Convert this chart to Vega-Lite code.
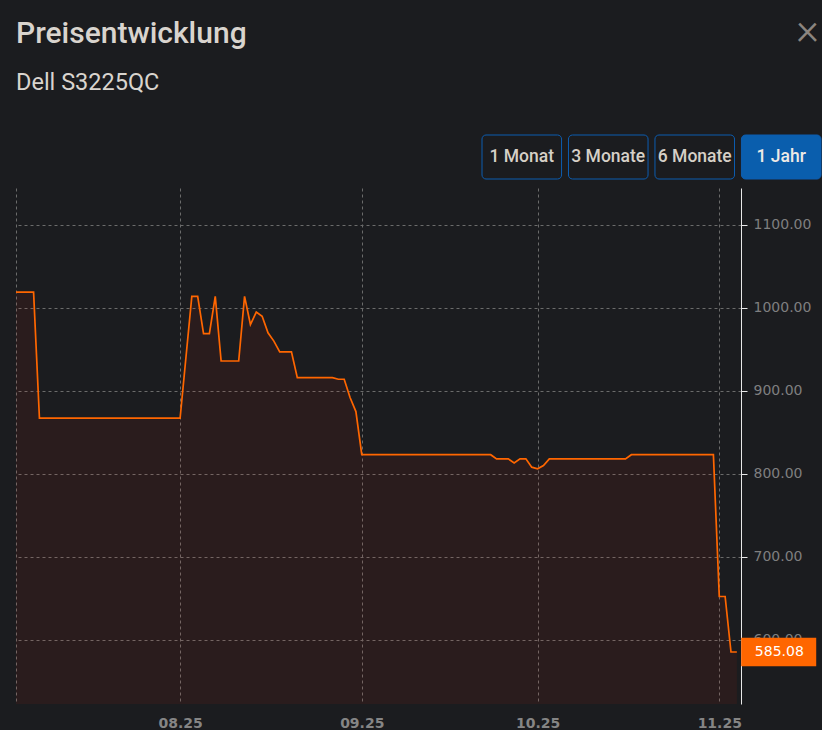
{
  "$schema": "https://vega.github.io/schema/vega-lite/v6.json",
  "background": "#1b1c1f",
  "padding": {"left": 12, "top": 9, "right": 0, "bottom": 0},
  "autosize": {"type": "pad"},
  "title": {"text": "×", "anchor": "end", "frame": "bounds", "offset": -34, "font": "Roboto", "fontWeight": 300, "fontSize": 44, "color": "#8b857f", "dx": -3},
  "spacing": 8,
  "vconcat": [
    {
      "title": {"text": "Preisentwicklung", "subtitle": "Dell S3225QC", "anchor": "start", "frame": "group", "font": "Roboto", "fontSize": 30, "fontWeight": 500, "color": "#d9d4ce", "subtitleFont": "Roboto", "subtitleFontSize": 23.5, "subtitleColor": "#d9d4ce", "subtitlePadding": 22, "offset": 40},
      "width": 806,
      "height": 44,
      "data": {"values": [
        {"label": "1 Monat", "status": "inaktiv"},
        {"label": "3 Monate", "status": "inaktiv"},
        {"label": "6 Monate", "status": "inaktiv"},
        {"label": "1 Jahr", "status": "aktiv"}
      ]},
      "layer": [
        {
          "mark": {"type": "rect", "cornerRadius": 4, "strokeWidth": 1, "stroke": "#0d5db0"},
          "encoding": {
            "x": {"field": "label", "type": "nominal", "sort": null, "scale": {"range": [466, 805], "paddingInner": 0.08, "paddingOuter": 0}, "axis": null},
            "fill": {"field": "status", "type": "nominal", "scale": {"domain": ["inaktiv", "aktiv"], "range": ["#1b1c1f", "#0a5ead"]}, "legend": null}
          }
        },
        {
          "mark": {"type": "text", "font": "Roboto", "fontSize": 17.5, "fontWeight": 500},
          "encoding": {
            "x": {"field": "label", "type": "nominal", "sort": null, "axis": null},
            "text": {"field": "label"},
            "color": {"field": "status", "type": "nominal", "scale": {"domain": ["inaktiv", "aktiv"], "range": ["#d6d0c7", "#eeeae6"]}, "legend": null}
          }
        }
      ]
    },
    {
      "width": 725,
      "height": 516,
      "data": {
        "values": [
          {"date": "2025-07-04", "price": 1019},
          {"date": "2025-07-07", "price": 1019},
          {"date": "2025-07-08", "price": 867},
          {"date": "2025-08-01", "price": 867},
          {"date": "2025-08-03", "price": 1014},
          {"date": "2025-08-04", "price": 1014},
          {"date": "2025-08-05", "price": 969},
          {"date": "2025-08-06", "price": 969},
          {"date": "2025-08-07", "price": 1014},
          {"date": "2025-08-08", "price": 936},
          {"date": "2025-08-11", "price": 936},
          {"date": "2025-08-12", "price": 1014},
          {"date": "2025-08-13", "price": 980},
          {"date": "2025-08-14", "price": 995},
          {"date": "2025-08-15", "price": 990},
          {"date": "2025-08-16", "price": 970},
          {"date": "2025-08-17", "price": 960},
          {"date": "2025-08-18", "price": 947},
          {"date": "2025-08-20", "price": 947},
          {"date": "2025-08-21", "price": 916},
          {"date": "2025-08-27", "price": 916},
          {"date": "2025-08-28", "price": 914},
          {"date": "2025-08-29", "price": 914},
          {"date": "2025-08-30", "price": 892},
          {"date": "2025-08-31", "price": 875},
          {"date": "2025-09-01", "price": 823},
          {"date": "2025-09-23", "price": 823},
          {"date": "2025-09-24", "price": 818},
          {"date": "2025-09-26", "price": 818},
          {"date": "2025-09-27", "price": 813},
          {"date": "2025-09-28", "price": 818},
          {"date": "2025-09-29", "price": 818},
          {"date": "2025-09-30", "price": 808},
          {"date": "2025-10-01", "price": 806},
          {"date": "2025-10-02", "price": 810},
          {"date": "2025-10-03", "price": 818},
          {"date": "2025-10-16", "price": 818},
          {"date": "2025-10-17", "price": 823},
          {"date": "2025-10-31", "price": 823},
          {"date": "2025-11-01", "price": 652},
          {"date": "2025-11-02", "price": 652},
          {"date": "2025-11-03", "price": 585.08},
          {"date": "2025-11-04", "price": 585.08}
        ],
        "format": {"parse": {"date": "utc:'%Y-%m-%d'"}}
      },
      "encoding": {
        "x": {
          "field": "date", "type": "temporal",
          "scale": {"type": "utc", "domain": [{"year": 2025, "month": 7, "date": 4, "utc": true}, {"year": 2025, "month": 11, "date": 4, "hours": 17, "utc": true}]},
          "axis": {
            "title": null, "orient": "bottom",
            "values": [
              {"year": 2025, "month": 7, "date": 4, "utc": true},
              {"year": 2025, "month": 8, "date": 1, "utc": true},
              {"year": 2025, "month": 9, "date": 1, "utc": true},
              {"year": 2025, "month": 10, "date": 1, "utc": true},
              {"year": 2025, "month": 11, "date": 1, "utc": true}
            ],
            "labelExpr": "utcmonth(datum.value) == 6 ? '' : utcFormat(datum.value, '%m.%y')",
            "labelFont": "DejaVu Sans", "labelFontSize": 14, "labelFontWeight": "bold", "labelColor": "#858585",
            "labelPadding": 12, "labelFlush": false, "ticks": false, "domain": false,
            "grid": true, "gridColor": "#6b6b6b", "gridDash": [3, 3], "gridWidth": 1
          }
        },
        "y": {
          "field": "price", "type": "quantitative",
          "scale": {"domain": [522.4, 1144.6], "nice": false, "zero": false},
          "axis": {
            "title": null, "orient": "right",
            "values": [600, 700, 800, 900, 1000, 1100], "format": ".2f",
            "labelFont": "DejaVu Sans", "labelFontSize": 14, "labelColor": "#7f7f7f", "labelPadding": 6,
            "domainColor": "#e8e8e8", "domainWidth": 1, "tickColor": "#e8e8e8", "tickSize": 6, "tickWidth": 1,
            "grid": true, "gridColor": "#6b6b6b", "gridDash": [3, 3], "gridWidth": 1
          }
        }
      },
      "layer": [
        {"mark": {"type": "area", "fill": "#e32812", "fillOpacity": 0.08, "clip": true}},
        {"mark": {"type": "line", "color": "#ff6600", "strokeWidth": 1.7}},
        {
          "transform": [
            {"joinaggregate": [{"op": "max", "field": "date", "as": "maxDate"}]},
            {"filter": "time(datum.date) == time(datum.maxDate)"}
          ],
          "layer": [
            {"mark": {"type": "point", "shape": "M0.3,-1H5.53V1H0.3Z", "size": 824, "filled": true, "fill": "#ff6600", "opacity": 1, "strokeWidth": 0}},
            {"mark": {"type": "text", "align": "left", "baseline": "middle", "dx": 18, "font": "DejaVu Sans", "fontSize": 14, "color": "#ffffff"},
             "encoding": {"text": {"field": "price", "type": "quantitative", "format": ".2f"}}}
          ]
        },
        {
          "data": {"values": [{}]},
          "mark": {"type": "rule", "color": "#4d4d4d", "strokeWidth": 1.5, "clip": false},
          "encoding": {
            "x": {"datum": {"year": 2025, "month": 7, "date": 4, "utc": true}, "type": "temporal"},
            "x2": {"datum": {"year": 2025, "month": 11, "date": 18, "hours": 8, "utc": true}},
            "y": {"datum": 1144.6, "type": "quantitative"}
          }
        }
      ]
    }
  ],
  "config": {
    "view": {"stroke": null}
  }
}
